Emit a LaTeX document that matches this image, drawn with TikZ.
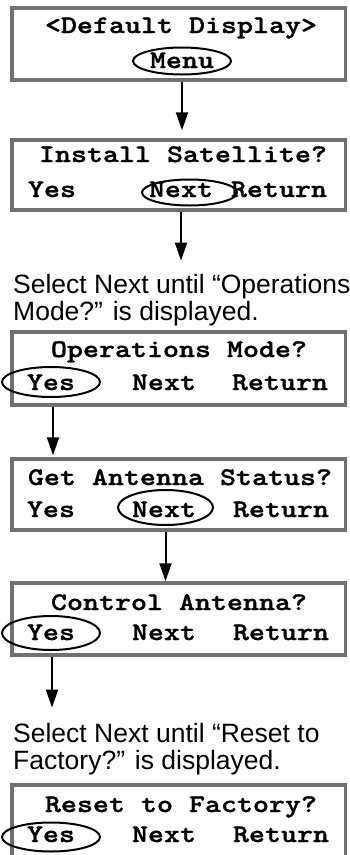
\documentclass[tikz,border=0pt]{standalone}
\usepackage{fontspec}
\usetikzlibrary{shapes.geometric,arrows.meta}
\newfontfamily\lcdfont{lmmonolt10-bold}[Extension=.otf, FakeStretch=1.2, FakeBold=1.2]
\newfontfamily\helvfont{Liberation Sans}
\definecolor{boxgray}{RGB}{112,112,112}
\begin{document}
\begin{tikzpicture}[x=1pt,y=-1pt,
  screen/.style={draw=boxgray, line width=3.5pt, rectangle, inner sep=0pt, minimum width=333.5pt},
  lcd/.style={font=\lcdfont\fontsize{25.4}{27}\selectfont, inner sep=0pt, anchor=base},
  sel/.style={draw=black, line width=2pt, ellipse, inner sep=0pt},
  note/.style={font=\helvfont\fontsize{26.5}{27}\selectfont, inner sep=0pt, anchor=base west},
  flow/.style={line width=2pt, -{Triangle[length=18pt,width=12pt]}}]

\path[use as bounding box] (0,0) rectangle (349,855);
\clip (0,0) rectangle (349,855);

% screen 1
\node[screen, minimum height=72pt] (s1) at (178.75,44) {};
\node[lcd] (t1) at (181,33) {<Default Display>};
\node[sel, minimum width=98pt, minimum height=27pt] (menuE) at (182,61) {};
\node[lcd] (menu) at (182,68) {Menu};

% screen 2
\node[screen, minimum height=70pt] (s2) at (178.75,175) {};
\node[lcd] (t2) at (183,162) {Install Satellite?};
\node[lcd] (yes2) at (52,197) {Yes};
\node[lcd] (next2) at (181,197) {Next};
\node[lcd] (ret2) at (279,197) {Return};
\node[sel, minimum width=95pt, minimum height=26pt] (next2E) at (189.5,192.5) {};

% note 1
\node[note] (n1a) at (13,293) {Select Next until “Operations};
\node[note] (n1b) at (13,320) {Mode?” is displayed.};

% screen 3
\node[screen, minimum height=73pt] (s3) at (178.75,368.5) {};
\node[lcd] (t3) at (179,357) {Operations Mode?};
\node[lcd] (yes3) at (51,390) {Yes};
\node[lcd] (next3) at (164,390) {Next};
\node[lcd] (ret3) at (280,390) {Return};
\node[sel, minimum width=98pt, minimum height=30pt] (yes3E) at (51,382) {};

% screen 4
\node[screen, minimum height=71pt] (s4) at (178.75,494.5) {};
\node[lcd] (t4) at (180,485) {Get Antenna Status?};
\node[lcd] (yes4) at (51,517) {Yes};
\node[lcd] (next4) at (164,517) {Next};
\node[lcd] (ret4) at (281,517) {Return};
\node[sel, minimum width=95pt, minimum height=35pt] (next4E) at (165.5,507.5) {};

% screen 5
\node[screen, minimum height=72pt] (s5) at (178.75,619) {};
\node[lcd] (t5) at (179,610) {Control Antenna?};
\node[lcd] (yes5) at (51,640) {Yes};
\node[lcd] (next5) at (164,640) {Next};
\node[lcd] (ret5) at (281,640) {Return};
\node[sel, minimum width=98pt, minimum height=34pt] (yes5E) at (51,633) {};

% note 2
\node[note] (n2a) at (13,742) {Select Next until “Reset to};
\node[note] (n2b) at (13,769) {Factory?” is displayed.};

% screen 6
\node[screen, minimum height=95pt] (s6) at (178.75,832.5) {};
\node[lcd] (t6) at (181,812) {Reset to Factory?};
\node[lcd] (yes6) at (51,842) {Yes};
\node[lcd] (next6) at (164,842) {Next};
\node[lcd] (ret6) at (281,842) {Return};
\node[sel, minimum width=98pt, minimum height=29pt] (yes6E) at (51,837) {};

% connectors
\draw[flow, shorten >=8pt] (menuE.south |- s1.south) -- (menuE.south |- s2.north);
\draw[flow, shorten >=13pt] (next2.south |- s2.south) -- (next2.south |- n1a.north);
\draw[flow, shorten >=2pt] ([xshift=2pt]yes3E.south |- s3.south) -- ([xshift=2pt]yes3E.south |- s4.north);
\draw[flow] (next4E.south |- s4.south) -- (next4E.south |- s5.north);
\draw[flow, shorten >=15pt] ([xshift=1pt]yes5E.south |- s5.south) -- ([xshift=1pt]yes5E.south |- n2a.north);
\end{tikzpicture}
\end{document}
